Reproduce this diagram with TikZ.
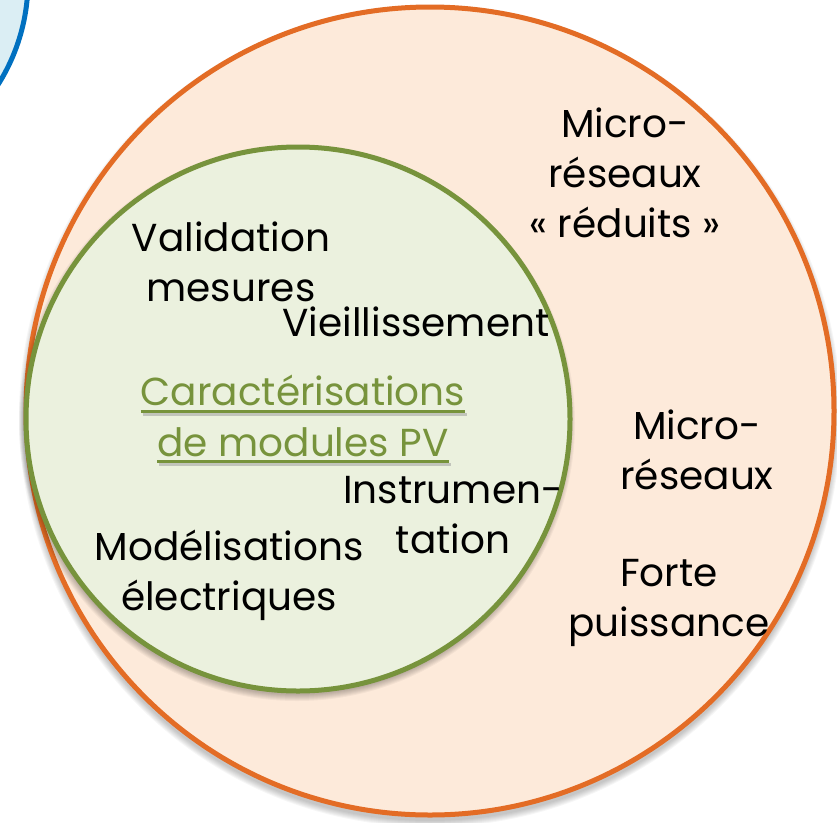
\documentclass[tikz,border=0pt]{standalone}
\usepackage{fontspec}
\setmainfont{Poppins}
\definecolor{orgline}{HTML}{E36C25}
\definecolor{orgfill}{HTML}{FDEADA}
\definecolor{grnline}{HTML}{77933C}
\definecolor{grnfill}{HTML}{EBF1DE}
\definecolor{blueline}{HTML}{0070C0}
\definecolor{bluefill}{HTML}{DBEEF4}
\begin{document}
\begin{tikzpicture}[x=1pt,y=-1pt,
  lbl/.style={font=\fontsize{39}{50}\selectfont, align=center, text=black, inner sep=0pt},
  title/.style={font=\fontsize{39}{52}\selectfont, align=center, inner sep=0pt, text=grnline},
  uline/.style={draw=grnline, line width=3pt},
  ushadow/.style={draw=black!40, opacity=0.5, line width=3pt}]
\useasboundingbox (0,0) rectangle (837,822);
% blue circle (top-left corner)
\path[fill=bluefill, draw=blueline, line width=5pt] (-166,-19) circle (194);
% orange circle shadow
\foreach \k in {0,...,6}{
  \fill[black, opacity=0.035] (430,416) circle (405+\k);
}
\path[fill=orgfill, draw=orgline, line width=5pt] (430,411) circle (404);
% green circle shadow
\foreach \k in {0,...,6}{
  \fill[black, opacity=0.04] (297,423) circle (272+\k);
}
\path[fill=grnfill, draw=grnline, line width=5pt] (298,419) circle (272);
% labels
\node[lbl] (mrr) at (625,173) {Micro-\\réseaux\\« réduits »};
\node[lbl] (val) at (231,262) {Validation\\mesures};
\node[lbl] (vie) at (416,322) {Vieillissement};
\node[title] (car1) at (303,390) {Caractérisations};
\node[title] (car2) at (303,442) {de modules PV};
\path[ushadow] ([xshift=2pt,yshift=-24pt]car1.west) -- ([xshift=2pt,yshift=-24pt]car1.east);
\path[uline] ([yshift=-21pt]car1.west) -- ([yshift=-21pt]car1.east);
\path[ushadow] ([xshift=2pt,yshift=-22pt]car2.west) -- ([xshift=2pt,yshift=-22pt]car2.east);
\path[uline] ([yshift=-19pt]car2.west) -- ([yshift=-19pt]car2.east);
\node[lbl] (ins) at (453,515) {Instrumen-\\tation};
\node[lbl] (mod) at (229,575) {Modélisations\\électriques};
\node[lbl] (mr) at (697,450) {Micro-\\réseaux};
\node[lbl] (fp) at (669,603) {Forte\\puissance};
\end{tikzpicture}
\end{document}
